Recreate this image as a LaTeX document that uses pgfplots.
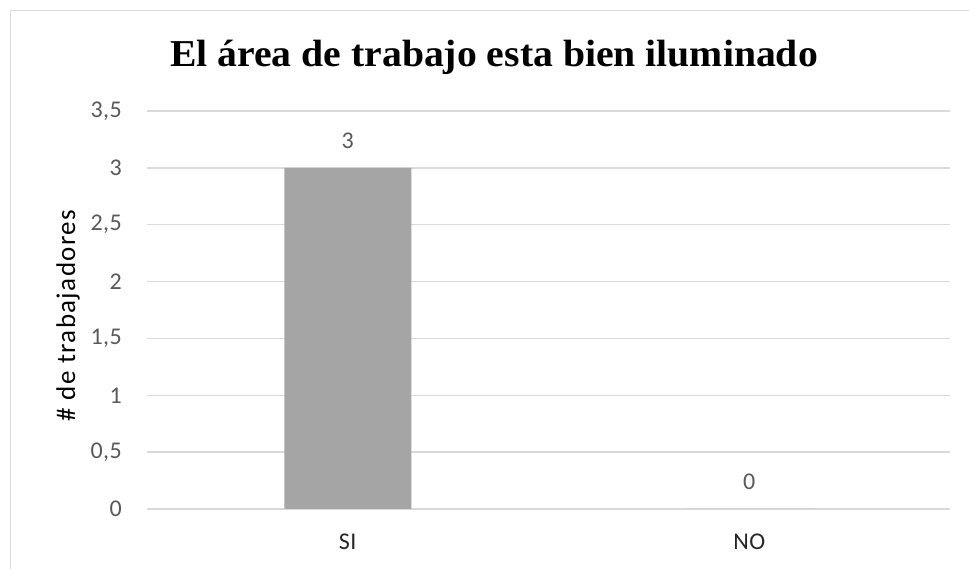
\documentclass[border=0pt]{standalone}
\usepackage{graphicx}
\usepackage{pgfplots}
\pgfplotsset{compat=1.18}
\usepackage{fontspec}
\setmainfont{Carlito}
\newfontfamily\titlefont{Liberation Serif}
\newfontfamily\tickfont[LetterSpace=2]{Carlito}
\newfontfamily\ylabfont[LetterSpace=5]{Carlito}
\definecolor{gridgray}{HTML}{D9D9D9}
\definecolor{bargray}{HTML}{A5A5A5}
\definecolor{ticktext}{HTML}{595959}
\definecolor{cattext}{HTML}{262626}

\begin{document}
\begin{tikzpicture}
% the plot box sits with its lower-left corner at the picture origin
\begin{axis}[
  anchor=south west, at={(0pt,0pt)},
  scale only axis, width=803pt, height=398pt,
  xmin=-0.5, xmax=1.5, ymin=0, ymax=3.5,
  xtick={0,1}, xticklabels={SI,NO},
  ytick={0,0.5,1,1.5,2,2.5,3,3.5},
  ymajorgrids, grid style={gridgray, line width=1.3pt},
  axis line style={draw=none},
  major tick length=0pt,
  /pgf/number format/.cd, use comma, assume math mode=true,
  /pgfplots/.cd,
  yticklabel style={font=\tickfont\fontsize{24}{26}\selectfont, text=ticktext, anchor=east, inner sep=0pt, xshift=-25pt},
  xticklabel style={font=\tickfont\fontsize{24}{26}\selectfont, text=cattext, anchor=north, inner sep=0pt, yshift=-25pt},
  ylabel={\# de trabajadores},
  ylabel style={font=\ylabfont\fontsize{27}{30}\selectfont, text=black, at={(axis description cs:-0.0984,0.486)}, anchor=center},
  ybar, bar width=127pt,
  nodes near coords,
  nodes near coords style={font=\tickfont\fontsize{24}{26}\selectfont, text=ticktext, anchor=south, inner sep=0pt, yshift=19pt},
]
\addplot[fill=bargray, draw=none] coordinates {(0,3) (1,0)};
\end{axis}
% chart frame (left and top edges) and title
\draw[gridgray, line width=1.5pt] (-136.5pt,-60pt) -- (-136.5pt,498.5pt) -- (822pt,498.5pt);
\node[font=\titlefont\bfseries\fontsize{38}{42}\selectfont, anchor=base, inner sep=0pt]
  at (347pt,442pt) {\scalebox{1.045}[1]{El área de trabajo esta bien iluminado}};
\pgfresetboundingbox
\useasboundingbox (-147pt,-60pt) rectangle (822pt,509pt);
\end{tikzpicture}
\end{document}
